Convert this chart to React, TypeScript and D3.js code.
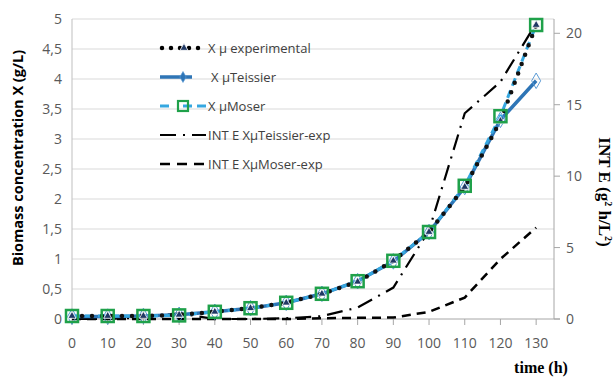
import * as d3 from "d3";

const time = [0, 10, 20, 30, 40, 50, 60, 70, 80, 90, 100, 110, 120, 130];
const xExperimental = [0.05, 0.05, 0.05, 0.07, 0.12, 0.18, 0.27, 0.42, 0.62, 0.97, 1.45, 2.2, 3.3, 4.9];
const xTeissier = [0.04, 0.04, 0.05, 0.07, 0.12, 0.18, 0.27, 0.42, 0.63, 0.96, 1.45, 2.2, 3.32, 3.97];
const xMoser = [0.05, 0.05, 0.05, 0.06, 0.12, 0.18, 0.27, 0.42, 0.63, 0.97, 1.45, 2.22, 3.38, 4.9];
const intTeissier = [0, 0, 0.1, 0.4, 0, 0, 0.05, 0.2, 0.8, 2.2, 6.2, 14.4, 16.6, 20.7];
const intMoser = [0, 0, 0, 0, 0, 0, 0, 0.05, 0.08, 0.1, 0.5, 1.5, 4.2, 6.4];

const xTicks = time;
const leftTicks = [0, 0.5, 1, 1.5, 2, 2.5, 3, 3.5, 4, 4.5, 5];
const rightTicks = [0, 5, 10, 15, 20];

const legendLabels = [
  "X µ experimental",
  "X µTeissier",
  "X µMoser",
  "INT E XµTeissier-exp",
  "INT E XµMoser-exp",
];

const W = 616;
const H = 379;
const FONT = "'Open Sans', sans-serif";

export default function App() {
  const x = d3.scaleLinear().domain([0, 135]).range([72, 554]);
  const yL = d3.scaleLinear().domain([0, 5]).range([319, 19]);
  const yR = d3.scaleLinear().domain([0, 21]).range([319, 19]);

  const lineL = (vals: number[]) =>
    d3.line<number>().x((_, i) => x(time[i])).y((d) => yL(d))(vals) || "";
  const lineR = (vals: number[]) =>
    d3.line<number>().x((_, i) => x(time[i])).y((d) => yR(d))(vals) || "";

  const tri = d3.symbol().type(d3.symbolTriangle).size(28)() || "";
  const diamond = d3.symbol().type(d3.symbolDiamond).size(70)() || "";

  const legendY = [48, 77, 106, 135, 164];

  return (
    <svg width={W} height={H} style={{ position: "absolute", left: 0, top: 0, background: "#fff" }}>
      {/* gridlines */}
      {leftTicks.slice(1).map((t) => (
        <line key={t} x1={x(0)} x2={x(135)} y1={yL(t)} y2={yL(t)} stroke="#d9d9d9" strokeWidth={1} />
      ))}
      {/* axes */}
      <line x1={x(0)} x2={x(0)} y1={yL(0)} y2={yL(5)} stroke="#bfbfbf" />
      <line x1={x(135)} x2={x(135)} y1={yL(0)} y2={yL(5)} stroke="#a6a6a6" />
      <line x1={x(0)} x2={x(135) + 6} y1={yL(0)} y2={yL(0)} stroke="#a6a6a6" />
      {xTicks.map((t) => (
        <line key={t} x1={x(t)} x2={x(t)} y1={yL(0)} y2={yL(0) + 6} stroke="#a6a6a6" />
      ))}
      {rightTicks.map((t) => (
        <line key={t} x1={x(135)} x2={x(135) + 6} y1={yR(t)} y2={yR(t)} stroke="#a6a6a6" />
      ))}

      {/* tick labels */}
      <g fontFamily={FONT} fontSize={14} fill="#595959">
        {xTicks.map((t) => (
          <text key={t} x={x(t)} y={348} textAnchor="middle">{t}</text>
        ))}
        {leftTicks.map((t) => (
          <text key={t} x={62} y={yL(t) + 5} textAnchor="end">{String(t).replace(".", ",")}</text>
        ))}
        {rightTicks.map((t) => (
          <text key={t} x={566} y={yR(t) + 5} textAnchor="start">{t}</text>
        ))}
      </g>

      {/* axis titles */}
      <text transform="translate(23,158) rotate(-90)" textAnchor="middle" fontFamily={FONT} fontWeight="bold" fontSize={14.5} fill="#000">
        Biomass concentration X (g/L)
      </text>
      <text transform="translate(599,192) rotate(90)" textAnchor="middle" fontFamily="'Liberation Serif', serif" fontWeight="bold" fontSize={17} fill="#000">
        INT E (g<tspan dy={-6} fontSize={10}>2</tspan><tspan dy={6}> h/L</tspan><tspan dy={-6} fontSize={10}>2</tspan><tspan dy={6}>)</tspan>
      </text>
      <text x={541} y={373} textAnchor="middle" fontFamily="'Liberation Serif', serif" fontWeight="bold" fontSize={16} fill="#000">
        time (h)
      </text>

      {/* INT E series (right axis) */}
      <path d={lineR(intTeissier)} fill="none" stroke="#000" strokeWidth={2.2} strokeDasharray="16 7 2 7" />
      <path d={lineR(intMoser)} fill="none" stroke="#000" strokeWidth={2.5} strokeDasharray="9 6" />

      {/* biomass series */}
      <path d={lineL(xTeissier)} fill="none" stroke="#2e75b6" strokeWidth={3.5} />
      {xTeissier.map((v, i) => (
        <path key={i} d={diamond} transform={`translate(${x(time[i])},${yL(v)})`} fill="#fff" fillOpacity={0} stroke="#5b9bd5" strokeWidth={1} />
      ))}
      <path d={lineL(xMoser)} fill="none" stroke="#35a7e0" strokeWidth={3} strokeDasharray="8 5" />
      <path d={lineL(xExperimental)} fill="none" stroke="#111" strokeWidth={4.5} strokeDasharray="0 10" strokeLinecap="round" />
      {xExperimental.map((v, i) => (
        <path key={i} d={tri} transform={`translate(${x(time[i])},${yL(v)})`} fill="#1f3864" stroke="#fff" strokeWidth={0.8} />
      ))}
      {xMoser.map((v, i) => (
        <rect key={i} x={x(time[i]) - 6} y={yL(v) - 6} width={12} height={12} fill="none" stroke="#1fa14a" strokeWidth={2.5} />
      ))}

      {/* legend */}
      <g fontFamily={FONT} fontSize={13} fill="#404040">
        {/* experimental */}
        <line x1={162} x2={206} y1={legendY[0]} y2={legendY[0]} stroke="#000" strokeWidth={4.5} strokeDasharray="0 9" strokeLinecap="round" />
        <path d={tri} transform={`translate(184,${legendY[0]})`} fill="#1f3864" stroke="#fff" strokeWidth={0.8} />
        {/* Teissier */}
        <line x1={160} x2={192} y1={legendY[1]} y2={legendY[1]} stroke="#2e75b6" strokeWidth={3.5} />
        <path d={diamond} transform={`translate(183,${legendY[1]}) scale(0.7)`} fill="#2e75b6" stroke="#5b9bd5" />
        {/* Moser */}
        <line x1={160} x2={206} y1={legendY[2]} y2={legendY[2]} stroke="#35a7e0" strokeWidth={3} strokeDasharray="9 14" />
        <line x1={197} x2={206} y1={legendY[2]} y2={legendY[2]} stroke="#35a7e0" strokeWidth={3} />
        <rect x={178} y={legendY[2] - 5} width={10} height={10} fill="none" stroke="#1fa14a" strokeWidth={2.2} />
        {/* INT Teissier */}
        <line x1={160} x2={206} y1={legendY[3]} y2={legendY[3]} stroke="#000" strokeWidth={2.2} strokeDasharray="16 7 2 7 14" />
        {/* INT Moser */}
        <line x1={160} x2={206} y1={legendY[4]} y2={legendY[4]} stroke="#000" strokeWidth={2.5} strokeDasharray="10 7" />
        {legendLabels.map((l, i) => (
          <text key={l} x={i === 1 ? 211 : 208} y={legendY[i] + 5}>{l}</text>
        ))}
      </g>
    </svg>
  );
}
